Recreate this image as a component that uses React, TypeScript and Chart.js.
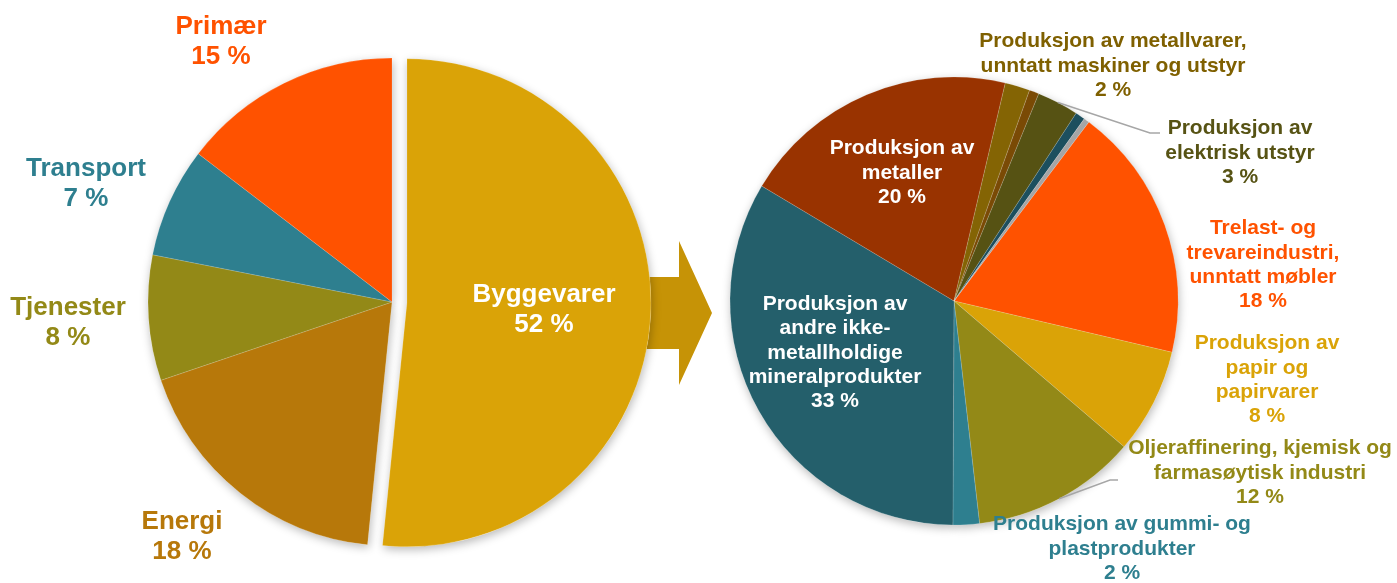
import React, { useEffect, useRef } from "react";
import { Chart, registerables, ArcElement } from "chart.js";

Chart.register(...registerables);

// ---------- Data ----------
const leftCategories = ["Byggevarer", "Energi", "Tjenester", "Transport", "Primær"];
const leftValues = [51.6, 18.2, 8.3, 7.3, 14.6];
const leftPctLabels = ["52 %", "18 %", "8 %", "7 %", "15 %"];
const leftColors = ["#DAA307", "#B7780A", "#938917", "#2E7F8F", "#FF5200"];
const leftTextColors = ["#FFFFFF", "#B7780A", "#938917", "#2E7F8F", "#FF5200"];
const leftExplode = [15, 0, 0, 0, 0];

const rightCategories = [
  "Trelast- og trevareindustri, unntatt møbler",
  "Produksjon av papir og papirvarer",
  "Oljeraffinering, kjemisk og farmasøytisk industri",
  "Produksjon av gummi- og plastprodukter",
  "Produksjon av andre ikke-metallholdige mineralprodukter",
  "Produksjon av metaller",
  "Produksjon av metallvarer, unntatt maskiner og utstyr",
  "Annen industri A",
  "Produksjon av elektrisk utstyr",
  "Annen industri B",
  "Annen industri C",
];
const rightValues = [18.4, 7.6, 11.9, 1.9, 33.5, 20.1, 1.8, 0.7, 3.0, 0.7, 0.4];
const rightPctLabels = ["18 %", "8 %", "12 %", "2 %", "33 %", "20 %", "2 %", "", "3 %", "", ""];
const rightColors = [
  "#FF5200", "#DAA307", "#938917", "#2E7F8F", "#245F6B", "#993300",
  "#846404", "#7A4A05", "#565213", "#1C4F5E", "#A5A5A5",
];
const rightTextColors = [
  "#FF5200", "#DAA307", "#938917", "#2E7F8F", "#FFFFFF", "#FFFFFF",
  "#7F6000", "", "#575314", "", "",
];

// label line breaks (text layout)
const leftLabelLines = [["Byggevarer"], ["Energi"], ["Tjenester"], ["Transport"], ["Primær"]];
const rightLabelLines = [
  ["Trelast- og", "trevareindustri,", "unntatt møbler"],
  ["Produksjon av", "papir og", "papirvarer"],
  ["Oljeraffinering, kjemisk og", "farmasøytisk industri"],
  ["Produksjon av gummi- og", "plastprodukter"],
  ["Produksjon av", "andre ikke-", "metallholdige", "mineralprodukter"],
  ["Produksjon av", "metaller"],
  ["Produksjon av metallvarer,", "unntatt maskiner og utstyr"],
  [],
  ["Produksjon av", "elektrisk utstyr"],
  [],
  [],
];

// label placement relative to pie centre (layout only)
const leftLabelPos = [[152, 6.5], [-210, 234], [-324, 20], [-306, -119], [-171, -261]];
const rightLabelPos = [
  [309, -37], [313, 78], [306, 171], [168, 247], [-119, 51], [-52, -129],
  [159, -236], null, [286, -149], null, null,
];
const rightLeaders: ({ elbow: number[]; end: number[] } | null)[] = [
  null, null, { elbow: [156, 179], end: [164, 179] }, null, null, null,
  null, null, { elbow: [196, -168], end: [206, -168] }, null, null,
];

const FONT = '"Liberation Sans", Arial, Helvetica, sans-serif';
const W = 1397;
const H = 583;

const origArcDraw = ArcElement.prototype.draw;

const piePlugin = {
  id: "pieDeco",
  beforeDatasetsDraw(chart: any, _args: any, opts: any) {
    const ctx = chart.ctx as CanvasRenderingContext2D;
    const meta = chart.getDatasetMeta(0);
    const explode: number[] = opts.explode || [];
    const first = meta.data[0];
    if (!first) return;
    const cx = first.x;
    const cy = first.y;
    const R = first.outerRadius;

    if (opts.arrow) {
      ctx.save();
      ctx.fillStyle = "#C69306";
      ctx.beginPath();
      ctx.moveTo(cx + R - 6, cy - 25);
      ctx.lineTo(cx + R + 43, cy - 25);
      ctx.lineTo(cx + R + 43, cy - 61);
      ctx.lineTo(cx + R + 76, cy + 11);
      ctx.lineTo(cx + R + 43, cy + 83);
      ctx.lineTo(cx + R + 43, cy + 47);
      ctx.lineTo(cx + R - 6, cy + 47);
      ctx.closePath();
      ctx.fill();
      ctx.restore();
    }

    ctx.save();
    ctx.shadowColor = "rgba(0,0,0,0.28)";
    ctx.shadowBlur = 10;
    ctx.shadowOffsetX = 1;
    ctx.shadowOffsetY = 3;
    ctx.fillStyle = "#ffffff";
    meta.data.forEach((arc: any, i: number) => {
      const e = explode[i] || 0;
      const mid = (arc.startAngle + arc.endAngle) / 2;
      const dx = Math.cos(mid) * e;
      const dy = Math.sin(mid) * e;
      ctx.beginPath();
      ctx.moveTo(arc.x + dx, arc.y + dy);
      ctx.arc(arc.x + dx, arc.y + dy, arc.outerRadius, arc.startAngle, arc.endAngle);
      ctx.closePath();
      ctx.fill();
      if (e && !arc.__wrapped) {
        arc.__wrapped = true;
        arc.draw = function (c: CanvasRenderingContext2D, area: any) {
          const m = (this.startAngle + this.endAngle) / 2;
          c.save();
          c.translate(Math.cos(m) * e, Math.sin(m) * e);
          origArcDraw.call(this, c, area);
          c.restore();
        };
      }
    });
    ctx.restore();
  },
  afterDatasetsDraw(chart: any, _args: any, opts: any) {
    const ctx = chart.ctx as CanvasRenderingContext2D;
    const meta = chart.getDatasetMeta(0);
    const first = meta.data[0];
    if (!first) return;
    const cx = first.x;
    const cy = first.y;
    const lines: string[][] = opts.lines;
    const pcts: string[] = opts.pcts;
    const colors: string[] = opts.colors;
    const pos: (number[] | null)[] = opts.pos;
    const leaders: any[] = opts.leaders || [];
    const size: number = opts.size;
    const lh: number = opts.lineHeight;

    ctx.save();
    // leaders
    leaders.forEach((ld: any, i: number) => {
      if (!ld) return;
      const arc = meta.data[i];
      const mid = (arc.startAngle + arc.endAngle) / 2;
      const sx = arc.x + Math.cos(mid) * arc.outerRadius;
      const sy = arc.y + Math.sin(mid) * arc.outerRadius;
      ctx.strokeStyle = "#A6A6A6";
      ctx.lineWidth = 1.5;
      ctx.beginPath();
      ctx.moveTo(sx, sy);
      ctx.lineTo(cx + ld.elbow[0], cy + ld.elbow[1]);
      ctx.lineTo(cx + ld.end[0], cy + ld.end[1]);
      ctx.stroke();
    });

    ctx.font = `bold ${size}px ${FONT}`;
    ctx.textAlign = "center";
    ctx.textBaseline = "middle";
    pos.forEach((p, i) => {
      if (!p) return;
      const all = [...lines[i], pcts[i]].filter((s) => s);
      const n = all.length;
      ctx.fillStyle = colors[i];
      all.forEach((t, k) => {
        const y = cy + p[1] + (k - (n - 1) / 2) * lh;
        ctx.fillText(t, cx + p[0], y + 1);
      });
    });
    ctx.restore();
  },
};

function makeChart(
  canvas: HTMLCanvasElement,
  labels: string[],
  values: number[],
  colors: string[],
  radius: number,
  rotation: number,
  padding: any,
  deco: any
) {
  return new Chart(canvas, {
    type: "pie",
    data: {
      labels,
      datasets: [
        {
          data: values,
          backgroundColor: colors,
          borderColor: "rgba(255,255,255,0.3)",
          borderWidth: 0.5,
          radius,
        } as any,
      ],
    },
    options: {
      responsive: false,
      animation: false,
      rotation,
      layout: { padding },
      events: [],
      plugins: {
        legend: { display: false },
        tooltip: { enabled: false },
        title: { display: false },
        pieDeco: deco,
      } as any,
    },
    plugins: [piePlugin],
  });
}

export default function App() {
  const leftRef = useRef<HTMLCanvasElement>(null);
  const rightRef = useRef<HTMLCanvasElement>(null);

  useEffect(() => {
    if (!leftRef.current || !rightRef.current) return;
    const left = makeChart(
      leftRef.current,
      leftCategories,
      leftValues,
      leftColors,
      244,
      0,
      { left: 0, right: W - 784, top: 21, bottom: 0 },
      {
        explode: leftExplode,
        arrow: true,
        lines: leftLabelLines,
        pcts: leftPctLabels,
        colors: leftTextColors,
        pos: leftLabelPos,
        size: 26,
        lineHeight: 30,
      }
    );
    const right = makeChart(
      rightRef.current,
      rightCategories,
      rightValues,
      rightColors,
      224,
      37,
      { left: 2 * 954 - W, right: 0, top: 2 * 301 - H, bottom: 0 },
      {
        explode: [],
        arrow: false,
        lines: rightLabelLines,
        pcts: rightPctLabels,
        colors: rightTextColors,
        pos: rightLabelPos,
        leaders: rightLeaders,
        size: 21,
        lineHeight: 24.3,
      }
    );
    return () => {
      left.destroy();
      right.destroy();
    };
  }, []);

  const cStyle: React.CSSProperties = { position: "absolute", left: 0, top: 0 };
  return (
    <div style={{ position: "absolute", left: 0, top: 0, width: W, height: H, background: "#fff" }}>
      <canvas ref={leftRef} width={W} height={H} style={cStyle} />
      <canvas ref={rightRef} width={W} height={H} style={cStyle} />
    </div>
  );
}
